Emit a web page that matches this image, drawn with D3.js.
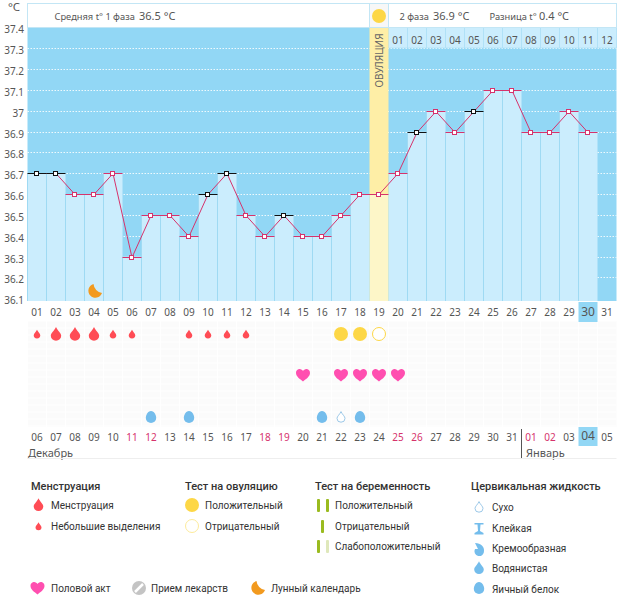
<!DOCTYPE html>
<html>
<head>
<meta charset="utf-8">
<script src="https://cdn.jsdelivr.net/npm/d3@7"></script>
<style>
body { margin: 0; background: #fff; }
svg { display: block; }
text { font-family: "Noto Sans", sans-serif; }
.legend text { font-family: Roboto, sans-serif; fill: #333; }
</style>
</head>
<body>
<div id="chart"></div>
<script>
// cycle data
var cycleDays = d3.range(1, 32).map(d => d3.format("02")(d));
var dates = ["06","07","08","09","10","11","12","13","14","15","16","17","18","19","20","21","22","23","24","25","26","27","28","29","30","31","01","02","03","04","05"];
var redDates = ["11","12","18","19","25","26","01","02"];
var temps = [36.7,36.7,36.6,36.6,36.7,36.3,36.5,36.5,36.4,36.6,36.7,36.5,36.4,36.5,36.4,36.4,36.5,36.6,36.6,36.7,36.9,37,36.9,37,37.1,37.1,36.9,36.9,37,36.9];
var blackDays = [1,2,10,11,14,21,24];
var yTicks = [37.4,37.3,37.2,37.1,37,36.9,36.8,36.7,36.6,36.5,36.4,36.3,36.2,36.1];
var secondPhase = ["01","02","03","04","05","06","07","08","09","10","11","12"];
var ovulationDay = 19;
var currentDay = 30;

// symptom rows
var mensHeavy = [2,3,4];
var mensLight = [1,5,6,9,10,11,12];
var ovuPositive = [17,18];
var ovuNegative = [19];
var sexDays = [15,17,18,19,20];
var eggWhite = [7,9,16,18];
var dryDays = [17];
var moonDays = [4];

var svg = d3.select("#chart").append("svg").attr("width", 626).attr("height", 595);

var x = d3.scaleBand().domain(d3.range(1, 32)).range([27.5, 616.5]);
var y = d3.scaleLinear().domain([36.7, 37.3]).range([173.3, 48.3]);
var plotBottom = 301, plotTop = 27;
var cx = d => x(d) + x.bandwidth() / 2;
var crispY = d => Math.round(y(d)) + 0.5;

// shapes
function drop(r) {
  return `M0,${-r * 1.6} C${r * 0.3},${-r * 0.9} ${r},${-r * 0.4} ${r},${r * 0.1} A${r},${r * 0.95} 0 1 1 ${-r},${r * 0.1} C${-r},${-r * 0.4} ${-r * 0.3},${-r * 0.9} 0,${-r * 1.6} Z`;
}
function egg(r) {
  return `M0,${-r * 1.15} C${r * 0.65},${-r * 1.15} ${r},${-r * 0.3} ${r},${r * 0.2} A${r},${r * 0.95} 0 1 1 ${-r},${r * 0.2} C${-r},${-r * 0.3} ${-r * 0.65},${-r * 1.15} 0,${-r * 1.15} Z`;
}
var heart = "M0,6.5 C-3,4 -7,1.5 -7,-2 C-7,-5 -4.8,-6 -3.4,-6 C-1.8,-6 -0.6,-5 0,-3.9 C0.6,-5 1.8,-6 3.4,-6 C4.8,-6 7,-5 7,-2 C7,1.5 3,4 0,6.5 Z";
var moon = "M-1.5,-7 A7,7 0 1 0 7,2 A10,10 0 0 1 -1.5,-7 Z";

// grey background of symptom rows
svg.append("rect").attr("x", 27.5).attr("y", 321).attr("width", 589).attr("height", 106).attr("fill", "#fbfbfb");
var rowLines = d3.range(321, 427, 7);
svg.selectAll(".rowLine").data(rowLines).enter().append("line")
  .attr("x1", 27.5).attr("x2", 616.5).attr("y1", d => d).attr("y2", d => d)
  .attr("stroke", "#fff");
svg.selectAll(".colLine").data(d3.range(1, 32)).enter().append("line")
  .attr("x1", d => x(d)).attr("x2", d => x(d)).attr("y1", 321).attr("y2", 427)
  .attr("stroke", "#fff");

// plot background
svg.append("rect").attr("x", 27.5).attr("y", plotTop).attr("width", 589).attr("height", plotBottom - plotTop).attr("fill", "#92d7f5");

// white dotted gridlines
svg.selectAll(".grid").data(yTicks.slice(1, -1)).enter().append("line")
  .attr("x1", 27.5).attr("x2", 616.5)
  .attr("y1", crispY).attr("y2", crispY)
  .attr("stroke", "#fff").attr("stroke-dasharray", "1.5,1.5").attr("opacity", 0.85);

// day columns
svg.selectAll(".bar").data(temps).enter().append("rect")
  .attr("x", (d, i) => x(i + 1))
  .attr("y", d => y(d))
  .attr("width", x.bandwidth())
  .attr("height", d => plotBottom - y(d))
  .attr("fill", "#cbedfd");
svg.selectAll(".sep").data(temps).enter().append("line")
  .attr("x1", (d, i) => x(i + 1)).attr("x2", (d, i) => x(i + 1))
  .attr("y1", d => y(d)).attr("y2", plotBottom)
  .attr("stroke", "#9fdaf3");

// second phase header cells
svg.selectAll(".phaseCell").data(secondPhase).enter().append("rect")
  .attr("x", (d, i) => x(ovulationDay + 1 + i))
  .attr("y", plotTop).attr("width", x.bandwidth()).attr("height", 21)
  .attr("fill", "#cbedfd").attr("stroke", "#a8def5").attr("stroke-width", 0.6);
svg.selectAll(".phaseLabel").data(secondPhase).enter().append("text")
  .attr("x", (d, i) => cx(ovulationDay + 1 + i)).attr("y", 44)
  .attr("text-anchor", "middle").attr("font-size", 10).attr("fill", "#555")
  .text(d => d);

// ovulation column
svg.append("rect").attr("x", x(ovulationDay)).attr("y", plotTop).attr("width", x.bandwidth()).attr("height", y(36.6) - plotTop).attr("fill", "#feeea6");
svg.append("rect").attr("x", x(ovulationDay)).attr("y", y(36.6)).attr("width", x.bandwidth()).attr("height", plotBottom - y(36.6)).attr("fill", "#fdf6c8");
svg.append("text")
  .attr("transform", `translate(${cx(ovulationDay) + 4},60.5) rotate(-90)`)
  .attr("text-anchor", "middle").attr("font-size", 10).attr("fill", "#666")
  .text("ОВУЛЯЦИЯ");

// header
svg.append("rect").attr("x", 27.5).attr("y", 3.5).attr("width", 342).attr("height", 24).attr("fill", "#fff").attr("stroke", "#c3e6f5");
svg.append("rect").attr("x", 369.5).attr("y", 3.5).attr("width", 19).attr("height", 24).attr("fill", "#f7f7f7").attr("stroke", "#c3e6f5");
svg.append("rect").attr("x", 388.5).attr("y", 3.5).attr("width", 228).attr("height", 24).attr("fill", "#fff").attr("stroke", "#c3e6f5");
svg.append("circle").attr("cx", cx(ovulationDay)).attr("cy", 16).attr("r", 7).attr("fill", "#fdd746");
var headerTexts = [
  { x: 54.5, t: "Средняя t° 1 фаза", s: 9.3 },
  { x: 139, t: "36.5 °C", s: 11 },
  { x: 399.5, t: "2 фаза", s: 9.3 },
  { x: 433, t: "36.9 °C", s: 11 },
  { x: 489.5, t: "Разница t°", s: 9.3 },
  { x: 539, t: "0.4 °C", s: 11 }
];
svg.selectAll(".head").data(headerTexts).enter().append("text")
  .attr("x", d => d.x).attr("y", 20).attr("font-size", d => d.s).attr("fill", "#555")
  .text(d => d.t);

// y labels
svg.append("text").attr("x", 14).attr("y", 11).attr("text-anchor", "middle").attr("font-size", 11.5).attr("fill", "#555").text("°C");
svg.selectAll(".yLabel").data(yTicks).enter().append("text")
  .attr("x", 24).attr("y", d => y(d) + 6).attr("text-anchor", "end")
  .attr("font-size", 10).attr("fill", "#555").text(d => d);

// temperature line
var line = d3.line().x((d, i) => cx(i + 1)).y(crispY);
svg.append("path").datum(temps).attr("d", line).attr("fill", "none").attr("stroke", "#d6336c").attr("stroke-width", 1);

// top dashes and markers
var isBlack = (i) => blackDays.includes(i + 1);
svg.selectAll(".dash").data(temps).enter().append("line")
  .attr("x1", (d, i) => x(i + 1)).attr("x2", (d, i) => x(i + 1) + x.bandwidth())
  .attr("y1", crispY).attr("y2", crispY)
  .attr("stroke", (d, i) => isBlack(i) ? "#111" : "#d6336c");
svg.selectAll(".marker").data(temps).enter().append("rect")
  .attr("x", (d, i) => cx(i + 1) - 2.5)
  .attr("y", d => crispY(d) - 2)
  .attr("width", 4).attr("height", 4)
  .attr("fill", "#fff")
  .attr("stroke", (d, i) => isBlack(i) ? "#111" : "#d6336c");

// day labels
svg.append("rect").attr("x", x(currentDay)).attr("y", 302).attr("width", x.bandwidth()).attr("height", 20).attr("fill", "#92d7f5");
svg.append("rect").attr("x", x(currentDay)).attr("y", 427).attr("width", x.bandwidth()).attr("height", 19).attr("fill", "#92d7f5");
svg.selectAll(".day").data(cycleDays).enter().append("text")
  .attr("x", (d, i) => cx(i + 1)).attr("y", 316)
  .attr("text-anchor", "middle").attr("font-size", (d, i) => i + 1 == currentDay ? 12 : 10).attr("fill", "#555")
  .text(d => d);
svg.selectAll(".date").data(dates).enter().append("text")
  .attr("x", (d, i) => cx(i + 1)).attr("y", (d, i) => i + 1 == currentDay ? 440 : 441)
  .attr("text-anchor", "middle").attr("font-size", (d, i) => i + 1 == currentDay ? 12 : 10)
  .attr("fill", d => redDates.includes(d) ? "#d6336c" : "#555")
  .text(d => d);

// month labels
svg.append("text").attr("x", 28).attr("y", 457).attr("font-size", 11).attr("fill", "#555").text("Декабрь");
svg.append("text").attr("x", 526).attr("y", 457).attr("font-size", 11).attr("fill", "#555").text("Январь");
svg.append("line").attr("x1", 521.5).attr("x2", 521.5).attr("y1", 429).attr("y2", 458).attr("stroke", "#555");
svg.append("line").attr("x1", 27.5).attr("x2", 616.5).attr("y1", 458.5).attr("y2", 458.5).attr("stroke", "#eee");

// moon
svg.selectAll(".moon").data(moonDays).enter().append("path")
  .attr("d", moon).attr("transform", d => `translate(${cx(d) + 1},291)`).attr("fill", "#f29a1f");

// symptoms
svg.selectAll(".heavy").data(mensHeavy).enter().append("path")
  .attr("d", drop(5.2)).attr("transform", d => `translate(${cx(d)},335.3)`).attr("fill", "#ff4c55");
svg.selectAll(".light").data(mensLight).enter().append("path")
  .attr("d", drop(3.3)).attr("transform", d => `translate(${cx(d)},335)`).attr("fill", "#ff4c55");
svg.selectAll(".ovuPos").data(ovuPositive).enter().append("circle")
  .attr("cx", cx).attr("cy", 334).attr("r", 7).attr("fill", "#fdd746");
svg.selectAll(".ovuNeg").data(ovuNegative).enter().append("circle")
  .attr("cx", cx).attr("cy", 334).attr("r", 6.5).attr("fill", "#fff").attr("stroke", "#fdd746");
svg.selectAll(".sex").data(sexDays).enter().append("path")
  .attr("d", heart).attr("transform", d => `translate(${cx(d)},375)`).attr("fill", "#ff4fb0");
svg.selectAll(".eggWhite").data(eggWhite).enter().append("path")
  .attr("d", egg(5.2)).attr("transform", d => `translate(${cx(d)},417)`).attr("fill", "#74bdec");
svg.selectAll(".dry").data(dryDays).enter().append("path")
  .attr("d", drop(4)).attr("transform", d => `translate(${cx(d)},418)`).attr("fill", "#fff").attr("stroke", "#9cc8e8");

// legend
var lg = svg.append("g").attr("class", "legend");
var legendHeads = [
  { x: 31, y: 490, t: "Менструация" },
  { x: 185, y: 490, t: "Тест на овуляцию" },
  { x: 315, y: 490, t: "Тест на беременность" },
  { x: 471, y: 490, t: "Цервикальная жидкость" }
];
var legendItems = [
  { x: 51, y: 509, t: "Менструация" },
  { x: 51, y: 530, t: "Небольшие выделения" },
  { x: 205, y: 509, t: "Положительный" },
  { x: 205, y: 530, t: "Отрицательный" },
  { x: 335, y: 509, t: "Положительный" },
  { x: 335, y: 530, t: "Отрицательный" },
  { x: 335, y: 550, t: "Слабоположительный" },
  { x: 492, y: 511, t: "Сухо" },
  { x: 492, y: 532, t: "Клейкая" },
  { x: 492, y: 552, t: "Кремообразная" },
  { x: 492, y: 572, t: "Водянистая" },
  { x: 492, y: 593, t: "Яичный белок" },
  { x: 51, y: 592, t: "Половой акт" },
  { x: 151, y: 592, t: "Прием лекарств" },
  { x: 271, y: 592, t: "Лунный календарь" }
];
lg.selectAll(".lh").data(legendHeads).enter().append("text")
  .attr("x", d => d.x).attr("y", d => d.y).attr("font-size", 11).attr("font-weight", 500).attr("fill", "#333").text(d => d.t);
lg.selectAll(".li").data(legendItems).enter().append("text")
  .attr("x", d => d.x).attr("y", d => d.y).attr("font-size", 10).text(d => d.t);

lg.append("path").attr("d", drop(4.8)).attr("transform", "translate(38.5,506)").attr("fill", "#ff4c55");
lg.append("path").attr("d", drop(3)).attr("transform", "translate(38.5,527)").attr("fill", "#ff4c55");
lg.append("circle").attr("cx", 192).attr("cy", 505).attr("r", 7).attr("fill", "#fdd746");
lg.append("circle").attr("cx", 192).attr("cy", 526).attr("r", 6.5).attr("fill", "#fff").attr("stroke", "#fdeb9b");
[[317, 505, "#9abb1f"], [326, 505, "#9abb1f"], [321, 526, "#9abb1f"], [317, 546, "#9abb1f"], [326, 546, "#dfe8bb"]].forEach(function(b) {
  lg.append("rect").attr("x", b[0]).attr("y", b[1] - 6).attr("width", 3).attr("height", 13).attr("rx", 1).attr("fill", b[2]);
});
lg.append("path").attr("d", drop(4)).attr("transform", "translate(479,508)").attr("fill", "#fff").attr("stroke", "#9cc8e8");
lg.append("path").attr("d", "M-4.5,-5 H4.5 V-3.5 H1.5 L1,3 L4.5,5 V6.5 H-4.5 V5 L-1,3 L-1.5,-3.5 H-4.5 Z").attr("transform", "translate(479,528)").attr("fill", "#74bdec");
lg.append("path").attr("d", "M-4,-6 C2,-6 5.5,-2 5,2 A4.8,4.8 0 1 1 -4,0 L-1,0 C-2,-2 -3,-4 -4,-6 Z").attr("transform", "translate(479,549)").attr("fill", "#74bdec");
lg.append("path").attr("d", drop(4.8)).attr("transform", "translate(479,569)").attr("fill", "#74bdec");
lg.append("path").attr("d", egg(5.2)).attr("transform", "translate(479,588)").attr("fill", "#74bdec");
lg.append("path").attr("d", heart).attr("transform", "translate(37.5,588)").attr("fill", "#ff4fb0");
lg.append("circle").attr("cx", 139).attr("cy", 588).attr("r", 7).attr("fill", "#c4c4c4");
lg.append("line").attr("x1", 135).attr("y1", 592).attr("x2", 143).attr("y2", 584).attr("stroke", "#fff").attr("stroke-width", 2.5);
lg.append("path").attr("d", moon).attr("transform", "translate(258,588)").attr("fill", "#f29a1f");
</script>
</body>
</html>
